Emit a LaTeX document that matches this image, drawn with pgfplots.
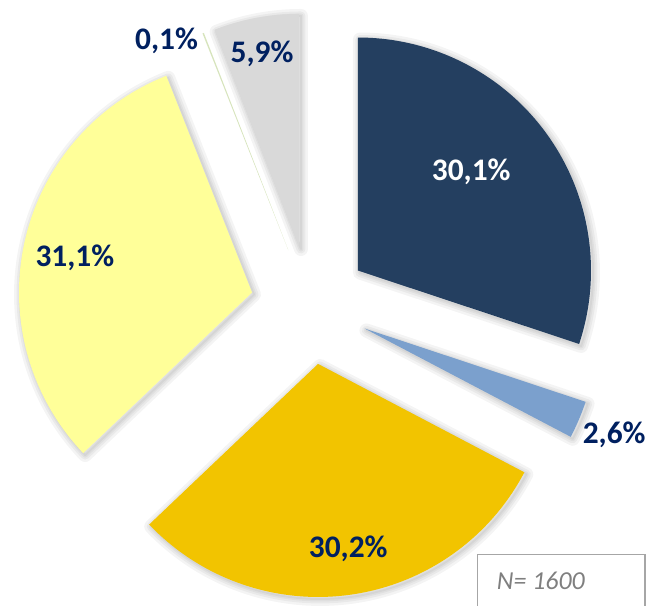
\documentclass[border=0pt]{standalone}
\usepackage{fontspec}
\setmainfont{Carlito}
\usepackage{pgfplots}
\pgfplotsset{compat=1.18}
\usetikzlibrary{calc}
\definecolor{cNavy}{RGB}{36,63,96}
\definecolor{cLBlue}{RGB}{123,160,205}
\definecolor{cGold}{RGB}{242,196,0}
\definecolor{cYellow}{RGB}{255,255,153}
\definecolor{cGreen}{RGB}{215,228,189}
\definecolor{cGrey}{RGB}{217,217,217}
\definecolor{cLabel}{RGB}{0,32,96}
\definecolor{cBox}{RGB}{166,166,166}
\definecolor{cN}{RGB}{127,127,127}
\begin{document}
\begin{tikzpicture}
\begin{axis}[x=1pt,y=1pt,xmin=0,xmax=651,ymin=0,ymax=606,hide axis,scale only axis,clip=false]
\path (axis cs:0,0) rectangle (axis cs:651,606);
\pgfplotsextra{%
 \coordinate (O) at (axis cs:308.5,299.5);
 % shadows (value/colour/shadow opacity)
 \xdef\curang{90}%
 \foreach \v/\col/\op in {30.1/cNavy/0.045,2.6/cLBlue/0.045,30.2/cGold/0.045,31.1/cYellow/0.045,0.1/cGreen/0,5.9/cGrey/0.045}{%
   \pgfmathsetmacro{\s}{\curang}%
   \pgfmathsetmacro{\e}{\s-3.6*\v}%
   \pgfmathsetmacro{\m}{(\s+\e)/2}%
   \xdef\curang{\e}%
   \foreach \w in {14pt,9pt,5pt,2pt}{%
     \draw[black, line width=\w, draw opacity=\op, line join=round]
       ($(O)+(\m:59.5pt)+(2pt,-2pt)$) -- ++(\s:234pt) arc[start angle=\s,end angle=\e,radius=234pt] -- cycle;
   }%
 }%
 % slices
 \xdef\curang{90}%
 \foreach \v/\col in {30.1/cNavy,2.6/cLBlue,30.2/cGold,31.1/cYellow,0.1/cGreen,5.9/cGrey}{%
   \pgfmathsetmacro{\s}{\curang}%
   \pgfmathsetmacro{\e}{\s-3.6*\v}%
   \pgfmathsetmacro{\m}{(\s+\e)/2}%
   \xdef\curang{\e}%
   \fill[\col] ($(O)+(\m:59.5pt)$) -- ++(\s:234pt) arc[start angle=\s,end angle=\e,radius=234pt] -- cycle;
 }%
}
\begin{scope}[every node/.style={font=\fontsize{31.5}{33}\selectfont\bfseries, text=cLabel, inner sep=0pt}]
\node[text=white] at (axis cs:470.5,433) {30,1\%};
\node at (axis cs:614,169) {2,6\%};
\node at (axis cs:347,55) {30,2\%};
\node at (axis cs:72.5,347.5) {31,1\%};
\node at (axis cs:164.5,565) {0,1\%};
\node at (axis cs:260.5,552) {5,9\%};
\end{scope}
\draw[cBox, line width=1.5pt] (axis cs:477,-2) |- (axis cs:645,49) -- (axis cs:645,-2);
\node[anchor=base west, inner sep=0pt, text=cN, font=\fontsize{26}{28}\selectfont\itshape] at (axis cs:496,14) {N= 1600};
\end{axis}
\end{tikzpicture}
\end{document}
